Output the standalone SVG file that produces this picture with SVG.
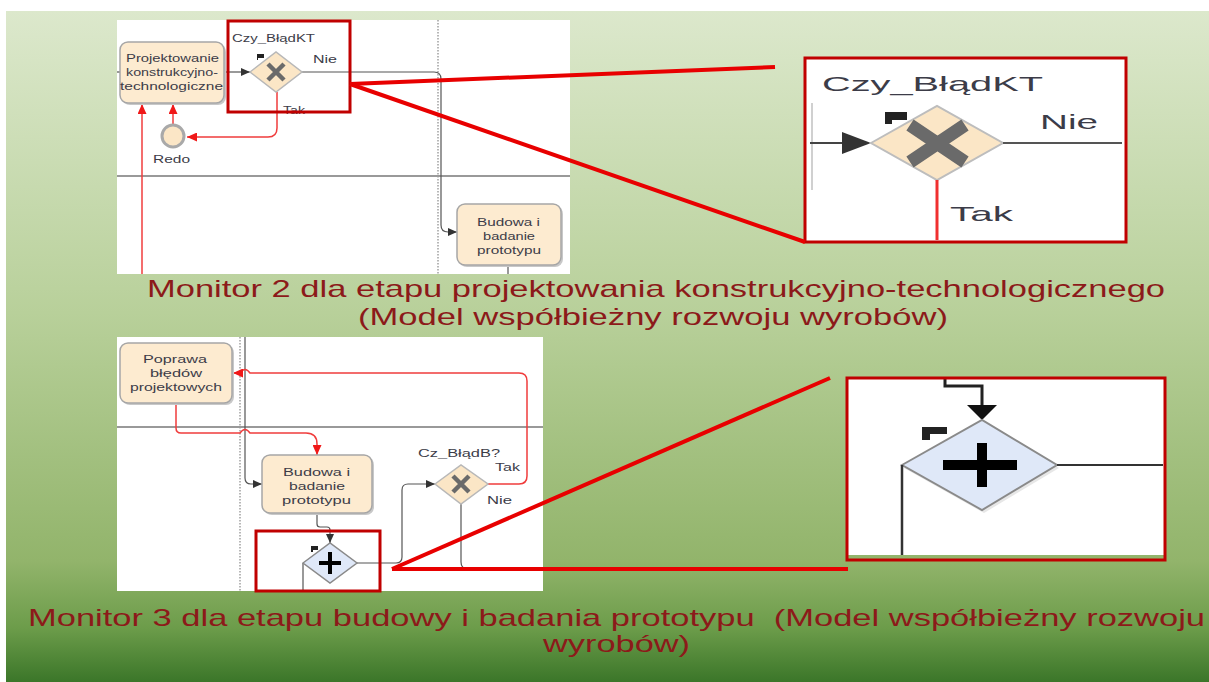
<svg xmlns="http://www.w3.org/2000/svg" width="1209" height="682" viewBox="0 0 1209 682">
  <defs>
    <linearGradient id="bg" x1="0" y1="0" x2="0" y2="1">
      <stop offset="0" stop-color="#dce8cc"/>
      <stop offset="0.45" stop-color="#b8d09a"/>
      <stop offset="0.82" stop-color="#92b46b"/>
      <stop offset="0.92" stop-color="#6c9c4a"/>
      <stop offset="1" stop-color="#3b7629"/>
    </linearGradient>
    <marker id="ah" markerWidth="9" markerHeight="8" refX="9" refY="4" orient="auto" markerUnits="userSpaceOnUse">
      <path d="M0,0 L9,4 L0,8 z" fill="#333"/>
    </marker>
    <marker id="ahr" markerWidth="10" markerHeight="9" refX="10" refY="4.5" orient="auto" markerUnits="userSpaceOnUse">
      <path d="M0,0 L10,4.5 L0,9 z" fill="#f01818"/>
    </marker>
  </defs>
  <style>
    .task{fill:#fdebd0;stroke:#a6a6a6;stroke-width:1.5}
    .shadow{fill:#c8c8c8}
    .xgw{fill:#fbe6c6;stroke:#b8b8b8;stroke-width:1.5}
    .pgw{fill:#dfe8f8;stroke:#8a8a8a;stroke-width:1.5}
    .xmark{stroke:#6a6a6a;stroke-linecap:butt}
    .lbl{font-family:"Liberation Sans",Arial,sans-serif;font-size:10px;fill:#3c3c48}
    .big{font-family:"Liberation Sans",Arial,sans-serif;font-size:21px;fill:#3c3c48}
    .cap{font-family:"Liberation Sans",Arial,sans-serif;font-size:24px;fill:#8c1a1a;white-space:pre}
    .flow{fill:none;stroke:#555;stroke-width:1.2}
    .rflow{fill:none;stroke:#f03c3c;stroke-width:1.5}
    .hl{fill:none;stroke:#c00000;stroke-width:3}
    .lead{stroke:#e80000;stroke-width:4;fill:none}
    .lane{stroke:#999;stroke-width:2}
    .dots{stroke:#888;stroke-width:1.2;stroke-dasharray:1.5 1.5}
  </style>

  <!-- page background -->
  <rect x="0" y="0" width="1209" height="682" fill="#fff"/>
  <rect x="6" y="11" width="1203" height="671" fill="url(#bg)"/>

  <!-- ===== Monitor 2 ===== -->
  <g id="panel2">
    <rect x="117" y="20" width="453" height="254" fill="#fff"/>
    <line class="dots" x1="438" y1="20" x2="438" y2="274"/>
    <line class="lane" x1="117" y1="176" x2="570" y2="176"/>
  </g>

  <g id="connectors-m2">
    <path class="flow" d="M117,72 H120"/>
    <path class="flow" d="M224,72 H250" marker-end="url(#ah)"/>
    <path class="flow" d="M302,72 H434 Q441,72 441,79 V225 Q441,232 448,232 H457" marker-end="url(#ah)"/>
    <path class="rflow" d="M277,92 V128 Q277,137 268,137 H187" marker-end="url(#ahr)"/>
    <path class="rflow" d="M173,124 V104" marker-end="url(#ahr)"/>
    <path class="rflow" d="M142,274 V104" marker-end="url(#ahr)"/>
    <path class="flow" d="M508,265 V274"/>
  </g>

  <g id="task-projektowanie">
    <rect class="shadow" x="122" y="44" width="104" height="61" rx="8"/>
    <rect class="task" x="120" y="42" width="104" height="61" rx="8"/>
    <text class="lbl" x="126" y="62" textLength="93" lengthAdjust="spacingAndGlyphs">Projektowanie</text>
    <text class="lbl" x="126" y="76" textLength="92" lengthAdjust="spacingAndGlyphs">konstrukcyjno-</text>
    <text class="lbl" x="120" y="90" textLength="103" lengthAdjust="spacingAndGlyphs">technologiczne</text>
  </g>

  <g id="gw-czy-bladkt">
    <polygon class="xgw" points="250,72 276,52 302,72 276,92"/>
    <path class="xmark" stroke-width="4.5" d="M268,64 L284,80 M284,64 L268,80"/>
    <path d="M257,54 H264 V58 H258 V60 H257 Z" fill="#222"/>
    <text class="lbl" x="232" y="42" textLength="83" lengthAdjust="spacingAndGlyphs">Czy_BłądKT</text>
    <text class="lbl" x="313" y="63" textLength="24" lengthAdjust="spacingAndGlyphs">Nie</text>
    <text class="lbl" x="283" y="114" textLength="22" lengthAdjust="spacingAndGlyphs">Tak</text>
  </g>

  <g id="event-redo">
    <circle cx="173" cy="136" r="11" fill="#fbe6c6" stroke="#a9a9a9" stroke-width="3"/>
    <text class="lbl" x="153" y="163" textLength="37" lengthAdjust="spacingAndGlyphs">Redo</text>
  </g>

  <g id="task-budowa-1">
    <rect class="shadow" x="459" y="206" width="104" height="61" rx="8"/>
    <rect class="task" x="457" y="204" width="104" height="61" rx="8"/>
    <text class="lbl" x="477" y="226" textLength="63" lengthAdjust="spacingAndGlyphs">Budowa i</text>
    <text class="lbl" x="483" y="240" textLength="52" lengthAdjust="spacingAndGlyphs">badanie</text>
    <text class="lbl" x="477" y="254" textLength="64" lengthAdjust="spacingAndGlyphs">prototypu</text>
  </g>

  <rect id="focus-1" class="hl" x="228" y="21" width="122" height="91"/>

  <!-- enlarged gateway of Monitor 2 -->
  <g id="detail-1">
    <rect x="805" y="58" width="321" height="184" fill="#fff"/>
    <line x1="812" y1="103" x2="812" y2="190" stroke="#d0d0d0" stroke-width="2"/>
    <text class="big" x="822" y="91" textLength="221" lengthAdjust="spacingAndGlyphs">Czy_BłądKT</text>
    <path d="M810,143 H846" stroke="#444" stroke-width="2"/>
    <polygon points="842,132 871,143 842,154" fill="#333"/>
    <polygon points="871,143 937,106 1003,143 937,180" fill="#fbe6c6" stroke="#bdbdbd" stroke-width="2"/>
    <path class="xmark" stroke-width="13" d="M910,125 L965,162 M965,125 L910,162"/>
    <path d="M885,112 H907 V120 H892 V124 H885 Z" fill="#222"/>
    <path d="M1003,143 H1122" stroke="#555" stroke-width="2"/>
    <path d="M937,180 V240" stroke="#f03030" stroke-width="3"/>
    <text class="big" x="1040" y="129" textLength="58" lengthAdjust="spacingAndGlyphs">Nie</text>
    <text class="big" x="950" y="221" textLength="63" lengthAdjust="spacingAndGlyphs">Tak</text>
    <rect class="hl" x="805" y="58" width="321" height="184"/>
  </g>

  <g id="leads-1">
    <path class="lead" d="M350,84 L775,67"/>
    <path class="lead" d="M350,84 L805,242"/>
  </g>

  <text class="cap" x="147" y="297" textLength="1018" lengthAdjust="spacingAndGlyphs">Monitor 2 dla etapu projektowania konstrukcyjno-technologicznego</text>
  <text class="cap" x="358" y="325" textLength="590" lengthAdjust="spacingAndGlyphs">(Model współbieżny rozwoju wyrobów)</text>

  <!-- ===== Monitor 3 ===== -->
  <g id="panel3">
    <rect x="117" y="337" width="426" height="254" fill="#fff"/>
    <line class="dots" x1="240" y1="337" x2="240" y2="591"/>
    <line class="lane" x1="117" y1="427" x2="543" y2="427" stroke-width="1.5"/>
  </g>

  <g id="connectors-m3">
    <path class="flow" d="M245,337 V478 Q245,484 251,484 H262" marker-end="url(#ah)"/>
    <path class="rflow" d="M488,484 H519 Q527,484 527,476 V381 Q527,373 519,373 H250 Q245,366 240,373 H233" marker-end="url(#ahr)"/>
    <path class="rflow" d="M176,403 V428 Q176,433 181,433 H240 Q245,426 250,433 H306 Q317,433 317,444 V455" marker-end="url(#ahr)"/>
    <path class="flow" d="M317,513 V524 Q317,527 320,527 H327 Q330,527 330,530 V543" marker-end="url(#ah)"/>
    <path class="flow" d="M303,563 V591"/>
    <path class="flow" d="M357,563 H396 Q402,563 402,557 V490 Q402,484 408,484 H435" marker-end="url(#ah)"/>
    <path class="flow" d="M461,504 V562 Q461,569 468,569 H543"/>
  </g>

  <g id="task-poprawa">
    <rect class="shadow" x="122" y="345" width="112" height="60" rx="8"/>
    <rect class="task" x="120" y="343" width="112" height="60" rx="8"/>
    <text class="lbl" x="143" y="363" textLength="64" lengthAdjust="spacingAndGlyphs">Poprawa</text>
    <text class="lbl" x="150" y="377" textLength="52" lengthAdjust="spacingAndGlyphs">błędów</text>
    <text class="lbl" x="130" y="391" textLength="92" lengthAdjust="spacingAndGlyphs">projektowych</text>
  </g>

  <g id="task-budowa-2">
    <rect class="shadow" x="264" y="457" width="110" height="58" rx="8"/>
    <rect class="task" x="262" y="455" width="110" height="58" rx="8"/>
    <text class="lbl" x="283" y="476" textLength="67" lengthAdjust="spacingAndGlyphs">Budowa i</text>
    <text class="lbl" x="289" y="490" textLength="56" lengthAdjust="spacingAndGlyphs">badanie</text>
    <text class="lbl" x="282" y="504" textLength="69" lengthAdjust="spacingAndGlyphs">prototypu</text>
  </g>

  <g id="gw-parallel">
    <polygon class="pgw" points="303,563 330,543 357,563 330,583"/>
    <path d="M319,563 H341 M330,552 V574" stroke="#000" stroke-width="4"/>
    <path d="M311,546 H318 V550 H313 V552 H311 Z" fill="#222"/>
  </g>

  <g id="gw-cz-bladb">
    <polygon class="xgw" points="435,484 461,465 488,484 461,504"/>
    <path class="xmark" stroke-width="4.5" d="M453,476 L469,492 M469,476 L453,492"/>
    <text class="lbl" x="418" y="457" textLength="82" lengthAdjust="spacingAndGlyphs">Cz_BłądB?</text>
    <text class="lbl" x="495" y="471" textLength="25" lengthAdjust="spacingAndGlyphs">Tak</text>
    <text class="lbl" x="487" y="504" textLength="25" lengthAdjust="spacingAndGlyphs">Nie</text>
  </g>

  <rect id="focus-2" class="hl" x="256" y="531" width="124" height="60"/>

  <!-- enlarged gateway of Monitor 3 -->
  <g id="detail-2">
    <rect x="847" y="378" width="318" height="177" fill="#fff"/>
    <path d="M945,378 V386 H982 V406" fill="none" stroke="#222" stroke-width="3"/>
    <polygon points="967,405 997,405 982,420" fill="#111"/>
    <polygon points="904,468 984,423 1059,468 984,513" fill="#cfcfcf" opacity="0.5"/>
    <polygon points="902,465 982,420 1057,465 982,510" fill="#dfe8f8" stroke="#8a8a8a" stroke-width="2"/>
    <path d="M943,465 H1017 M982,443 V487" stroke="#000" stroke-width="10"/>
    <path d="M922,427 H947 V434 H930 V440 H922 Z" fill="#222"/>
    <path d="M1057,465 H1163" stroke="#333" stroke-width="2"/>
    <path d="M902,465 V555" stroke="#333" stroke-width="2.5"/>
    <rect class="hl" x="847" y="378" width="318" height="182"/>
  </g>

  <g id="leads-2">
    <path class="lead" d="M392,569 L830,378"/>
    <path class="lead" d="M392,569 L848,569"/>
  </g>

  <text class="cap" x="28" y="626" textLength="1177" lengthAdjust="spacingAndGlyphs">Monitor 3 dla etapu budowy i badania prototypu  (Model współbieżny rozwoju</text>
  <text class="cap" x="543" y="652" textLength="147" lengthAdjust="spacingAndGlyphs">wyrobów)</text>
</svg>
